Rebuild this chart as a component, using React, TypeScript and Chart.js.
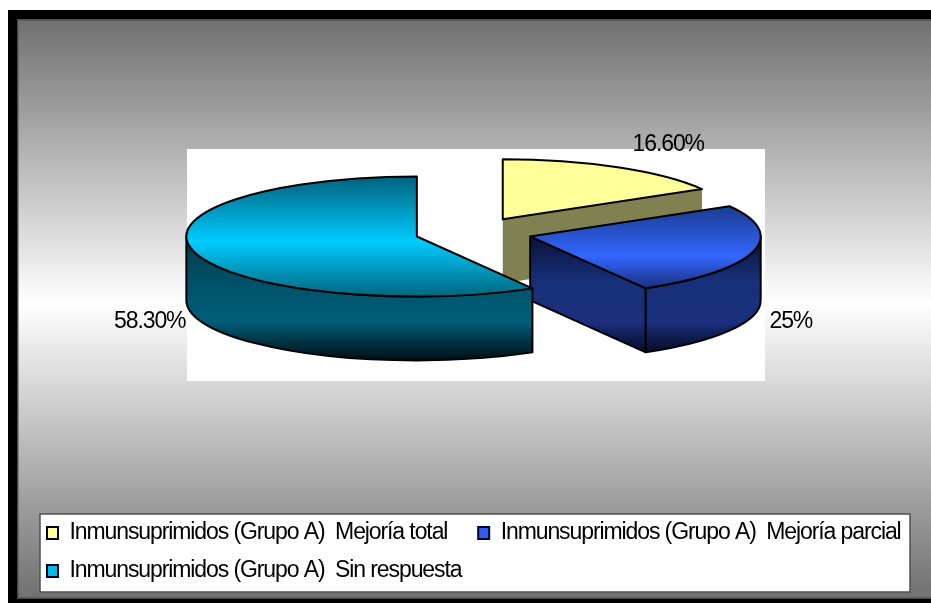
import React, { useEffect, useRef } from "react";
import { Chart, registerables } from "chart.js";

Chart.register(...registerables);

// Slice shares, in percent, clockwise from twelve o'clock.
const categories = [
  "Inmunsuprimidos (Grupo A)  Mejoría total",
  "Inmunsuprimidos (Grupo A)  Mejoría parcial",
  "Inmunsuprimidos (Grupo A)  Sin respuesta",
];
const shares = [16.6, 25, 58.3];
const shareLabels = ["16.60%", "25%", "58.30%"];

// Projection of the tilted pie onto the canvas.
const PIE = { cx: 473.5, cy: 232.5, rx: 230.5, ry: 60, depth: 64, explode: 0.2545 };
const SQUASH = PIE.ry / PIE.rx;
const FONT = "23px 'Liberation Sans'";
const TRACKING = "-1.1px";
const LABEL_DROP = 3;

type Stops = [number, string][];

// Gradient stops are pixel offsets below the apex of each wedge.
const topStops: Stops[] = [
  [[-60, "#ffff99"], [60, "#ffff99"]],
  [[-33, "#1a3a8a"], [20, "#3366ff"], [52, "#1a2f7a"]],
  [[-61, "#00607c"], [5, "#00ccff"], [59, "#006880"]],
];
const wallStops: Stops[] = [
  [[0, "#808050"], [120, "#808050"]],
  [[0, "#0a1238"], [45, "#17307a"], [85, "#1a2f7d"], [117, "#050a24"]],
  [[0, "#003a48"], [55, "#00556e"], [85, "#005d78"], [123, "#001014"]],
];
const legendFills = ["#ffff99", "#2f5ff0", "#00b8ea"];
const wallOutline = [false, true, true];
const labelReach = [1.44, 1.17, 1.2];

function paintStops(g: CanvasGradient, stops: Stops) {
  const y0 = stops[0][0];
  const y1 = stops[stops.length - 1][0];
  for (const [y, colour] of stops) g.addColorStop((y - y0) / (y1 - y0), colour);
  return g;
}

// Top face fill, expressed in the arc's own unsquashed coordinates.
function topFaceFill(c: any) {
  const { chart, dataIndex } = c;
  const area = chart.chartArea;
  if (!area) return legendFills[dataIndex];
  const midY = (area.top + area.bottom) / 2;
  const stops = topStops[dataIndex];
  const g = chart.ctx.createLinearGradient(
    0,
    midY + stops[0][0] / SQUASH,
    0,
    midY + stops[stops.length - 1][0] / SQUASH
  );
  return paintStops(g, stops);
}

function apexOf(arc: any) {
  const mid = (arc.startAngle + arc.endAngle) / 2;
  return {
    x: PIE.cx + PIE.rx * PIE.explode * Math.cos(mid),
    y: PIE.cy + PIE.ry * PIE.explode * Math.sin(mid),
  };
}

// Backdrop: page frame, banded grey, white plot rectangle and the legend box.
const backdrop = {
  id: "backdrop",
  beforeLayout(chart: any) {
    chart.ctx.letterSpacing = TRACKING;
  },
  beforeDraw(chart: any) {
    const { ctx, width, height } = chart;
    ctx.letterSpacing = TRACKING;
    ctx.save();
    ctx.fillStyle = "#000000";
    ctx.fillRect(8, 10, width - 8, height - 10);
    const g = ctx.createLinearGradient(0, 19, 0, 599);
    g.addColorStop(0, "#707070");
    g.addColorStop(0.49, "#ffffff");
    g.addColorStop(1, "#707070");
    ctx.fillStyle = "#4a4a4a";
    ctx.fillRect(17, 19, width - 17, 580);
    ctx.fillStyle = g;
    ctx.fillRect(18.5, 20.5, width - 18.5, 577);
    ctx.fillStyle = "#ffffff";
    ctx.fillRect(187, 149, 578, 232);
    ctx.fillRect(40, 514, 870, 78);
    ctx.strokeStyle = "#505050";
    ctx.lineWidth = 1.5;
    ctx.strokeRect(40, 514, 870, 78);
    ctx.restore();
  },
};

// Draws each arc element through a squash transform and extrudes its visible walls.
const tiltedPie = {
  id: "tiltedPie",
  beforeDatasetDraw(chart: any, args: any) {
    const { ctx } = chart;
    const arcs = args.meta.data;
    arcs.forEach((arc: any, i: number) => {
      const a = apexOf(arc);
      const { startAngle: s, endAngle: e } = arc;
      const rim = (t: number) => ({
        x: a.x + PIE.rx * Math.cos(t),
        y: a.y + PIE.ry * Math.sin(t),
      });
      const stops = wallStops[i];
      const wall = paintStops(
        ctx.createLinearGradient(0, a.y + stops[0][0], 0, a.y + stops[stops.length - 1][0]),
        stops
      );

      ctx.save();
      ctx.fillStyle = wall;
      ctx.strokeStyle = "#000000";
      ctx.lineWidth = 2;
      ctx.lineJoin = "round";

      const paint = () => {
        ctx.fill();
        if (wallOutline[i]) ctx.stroke();
      };

      // Flat radial faces that turn toward the viewer.
      const faces: number[] = [];
      if (Math.cos(s) < -1e-6) faces.push(s);
      if (Math.cos(e) > 1e-6) faces.push(e);
      for (const t of faces) {
        const r = rim(t);
        ctx.beginPath();
        ctx.moveTo(a.x, a.y);
        ctx.lineTo(r.x, r.y);
        ctx.lineTo(r.x, r.y + PIE.depth);
        ctx.lineTo(a.x, a.y + PIE.depth);
        ctx.closePath();
        paint();
      }

      // Curved outer wall along the front half of the rim.
      const a0 = Math.max(s, 0);
      const a1 = Math.min(e, Math.PI);
      if (a1 > a0) {
        ctx.beginPath();
        ctx.ellipse(a.x, a.y, PIE.rx, PIE.ry, 0, a0, a1);
        ctx.ellipse(a.x, a.y + PIE.depth, PIE.rx, PIE.ry, 0, a1, a0, true);
        ctx.closePath();
        paint();
      }

      // Top face, filled by the element itself.
      ctx.save();
      ctx.translate(a.x, a.y);
      ctx.scale(1, SQUASH);
      ctx.translate(-arc.x, -arc.y);
      arc.draw(ctx);
      ctx.restore();

      ctx.beginPath();
      ctx.moveTo(a.x, a.y);
      ctx.ellipse(a.x, a.y, PIE.rx, PIE.ry, 0, s, e);
      ctx.closePath();
      ctx.stroke();
      ctx.restore();
    });

    // Percentage labels outside the rim.
    ctx.save();
    ctx.font = FONT;
    ctx.fillStyle = "#000000";
    ctx.textAlign = "center";
    ctx.textBaseline = "middle";
    arcs.forEach((arc: any, i: number) => {
      const a = apexOf(arc);
      const mid = (arc.startAngle + arc.endAngle) / 2;
      const below = Math.sin(mid) > 0 ? PIE.depth + LABEL_DROP : 0;
      ctx.fillText(
        shareLabels[i],
        a.x + PIE.rx * labelReach[i] * Math.cos(mid),
        a.y + PIE.ry * labelReach[i] * Math.sin(mid) + below
      );
    });
    ctx.restore();
    return false;
  },
};

export default function App() {
  const ref = useRef<HTMLCanvasElement>(null);

  useEffect(() => {
    if (!ref.current) return;
    const chart = new Chart(ref.current, {
      type: "pie",
      data: {
        labels: categories,
        datasets: [
          {
            data: shares,
            backgroundColor: topFaceFill,
            borderWidth: 0,
          },
        ],
      },
      options: {
        responsive: false,
        animation: false,
        events: [],
        radius: PIE.rx,
        layout: { padding: { left: 32, right: 0, top: 0, bottom: 10.5 } },
        plugins: {
          tooltip: { enabled: false },
          legend: {
            position: "bottom",
            align: "start",
            labels: {
              color: "#000000",
              font: { family: "'Liberation Sans'", size: 23 },
              boxWidth: 11,
              boxHeight: 12,
              padding: 15,
              generateLabels: () =>
                categories.map((text, i) => ({
                  // Trailing spaces widen the gap before the second entry of the row.
                  text: i === 0 ? text + "   " : text,
                  fillStyle: legendFills[i],
                  strokeStyle: "#000030",
                  lineWidth: 2,
                  hidden: false,
                  index: i,
                })),
            },
          },
        },
      } as any,
      plugins: [backdrop, tiltedPie],
    });
    return () => chart.destroy();
  }, []);

  return (
    <canvas
      ref={ref}
      width={931}
      height={603}
      style={{ position: "absolute", left: 0, top: 0, display: "block" }}
    />
  );
}
